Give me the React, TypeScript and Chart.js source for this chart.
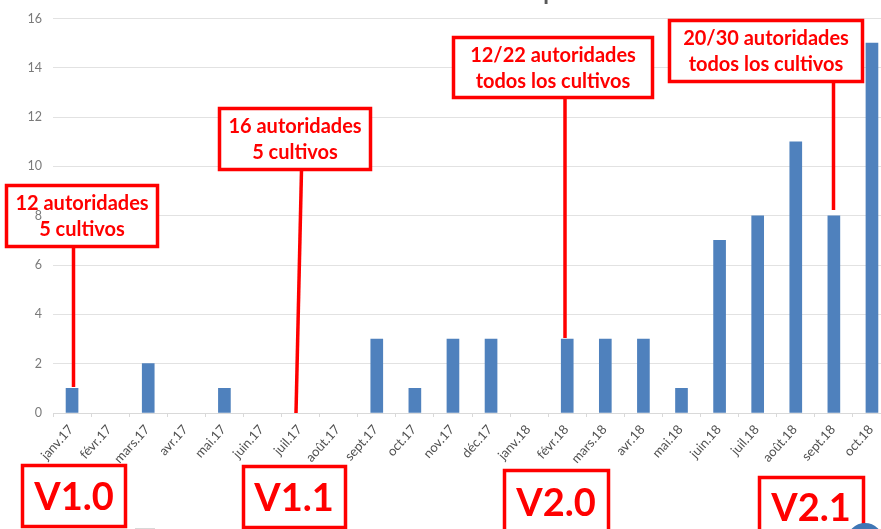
import React, { useEffect, useRef } from "react";
import { Chart, registerables } from "chart.js";

Chart.register(...registerables);

const categories = ["janv.17","févr.17","mars.17","avr.17","mai.17","juin.17","juil.17","août.17","sept.17","oct.17","nov.17","déc.17","janv.18","févr.18","mars.18","avr.18","mai.18","juin.18","juil.18","août.18","sept.18","oct.18"];
const dossiers = [1,0,2,0,1,0,0,0,3,1,3,3,0,3,3,3,1,7,8,11,8,15];
const titleText = "Número de datos de salud presentados";
const note1 = ["12 autoridades", "5 cultivos"];
const note2 = ["16 autoridades", "5 cultivos"];
const note3 = ["12/22 autoridades", "todos los cultivos"];
const note4 = ["20/30 autoridades", "todos los cultivos"];
const versions = ["V1.0", "V1.1", "V2.0", "V2.1"];

const RED = "#ff0000";
const FONT = "Lato, Carlito, sans-serif";

const noteLayout = [
  { lines: note1, box: [6.5, 185.5, 151, 61], line: [73.5, 247, 73.5, 387] },
  { lines: note2, box: [219.5, 108.5, 151, 61], line: [301.5, 170, 296, 413] },
  { lines: note3, box: [453.5, 37.5, 199, 60], line: [565, 98, 565, 338] },
  { lines: note4, box: [669.5, 20.5, 193, 61], line: [833.5, 82, 833.5, 210] },
];
const versionLayout = [
  { text: versions[0], box: [22.5, 465.5, 103, 61], tx: 74, ty: 510 },
  { text: versions[1], box: [243.5, 466.5, 102, 61], tx: 294, ty: 511 },
  { text: versions[2], box: [504.5, 470.5, 104, 70], tx: 556, ty: 516 },
  { text: versions[3], box: [759.5, 477.5, 104, 70], tx: 811, ty: 521 },
];

const overlay = {
  id: "overlay",
  afterDatasetsDraw(chart: any) {
    const ctx = chart.ctx;
    ctx.save();
    ctx.strokeStyle = RED;
    ctx.fillStyle = RED;
    ctx.lineWidth = 3.5;
    ctx.textAlign = "center";
    ctx.textBaseline = "alphabetic";
    for (const n of noteLayout) {
      const [x, y, w, h] = n.box;
      ctx.fillStyle = "#ffffff";
      ctx.fillRect(x, y, w, h);
      ctx.strokeRect(x, y, w, h);
      ctx.beginPath();
      ctx.moveTo(n.line[0], n.line[1]);
      ctx.lineTo(n.line[2], n.line[3]);
      ctx.stroke();
      ctx.fillStyle = RED;
      ctx.font = "bold 20px " + FONT;
      ctx.fillText(n.lines[0], x + w / 2, y + 24.5);
      ctx.fillText(n.lines[1], x + w / 2, y + 50);
    }
    for (const v of versionLayout) {
      const [x, y, w, h] = v.box;
      ctx.strokeRect(x, y, w, h);
      ctx.font = "bold 38px " + FONT;
      ctx.fillStyle = RED;
      ctx.fillText(v.text, v.tx, v.ty);
    }
    // clipped title at the very top of the picture
    ctx.fillStyle = "#595959";
    ctx.font = "bold 23px " + FONT;
    ctx.fillText(titleText, 470, 0.2);
    // clipped shapes along the bottom edge
    ctx.fillStyle = "#3f76b5";
    ctx.beginPath();
    ctx.arc(865, 541, 18, 0, Math.PI * 2);
    ctx.fill();
    ctx.fillStyle = "#d8d8d8";
    ctx.fillRect(135, 528, 20, 1);
    ctx.restore();
  },
};

export default function App() {
  const ref = useRef<HTMLCanvasElement>(null);
  useEffect(() => {
    const chart = new Chart(ref.current!, {
      type: "bar",
      data: {
        labels: categories,
        datasets: [{
          data: dossiers,
          backgroundColor: (c: any) => (c.raw === 0 ? "rgba(0,0,0,0)" : "#4f81bd"),
          barThickness: 12,
        }],
      },
      options: {
        animation: false,
        responsive: false,
        maintainAspectRatio: false,
        layout: { autoPadding: false, padding: { top: 15, right: 9, left: 0, bottom: 0 } },
        plugins: { legend: { display: false }, title: { display: false }, tooltip: { enabled: false } },
        scales: {
          x: {
            afterFit(s: any) { s.height = 116; },
            grid: { drawOnChartArea: false, drawTicks: true, tickLength: 4, color: "#d9d9d9" },
            border: { color: "#d9d9d9", width: 1 },
            ticks: {
              autoSkip: false, maxRotation: 48, minRotation: 48, padding: 5, labelOffset: -1,
              color: "#505050", font: { family: FONT, size: 13 },
            },
          },
          y: {
            min: 0, max: 16,
            afterFit(s: any) { s.width = 53; },
            grid: { color: "#e2e2e2", drawTicks: false, lineWidth: 1 },
            border: { display: false },
            ticks: {
              stepSize: 2, padding: 11, z: 1, labelOffset: 0,
              color: "#7a7a7a", font: { family: FONT, size: 12.5 },
            },
          },
        },
      },
      plugins: [overlay],
    } as any);
    return () => chart.destroy();
  }, []);
  return (
    <div style={{ position: "fixed", left: 0, top: 0, width: 881, height: 529, overflow: "hidden", background: "#fff" }}>
      <canvas ref={ref} width={900} height={529} style={{ display: "block", width: 900, height: 529 }} />
    </div>
  );
}
